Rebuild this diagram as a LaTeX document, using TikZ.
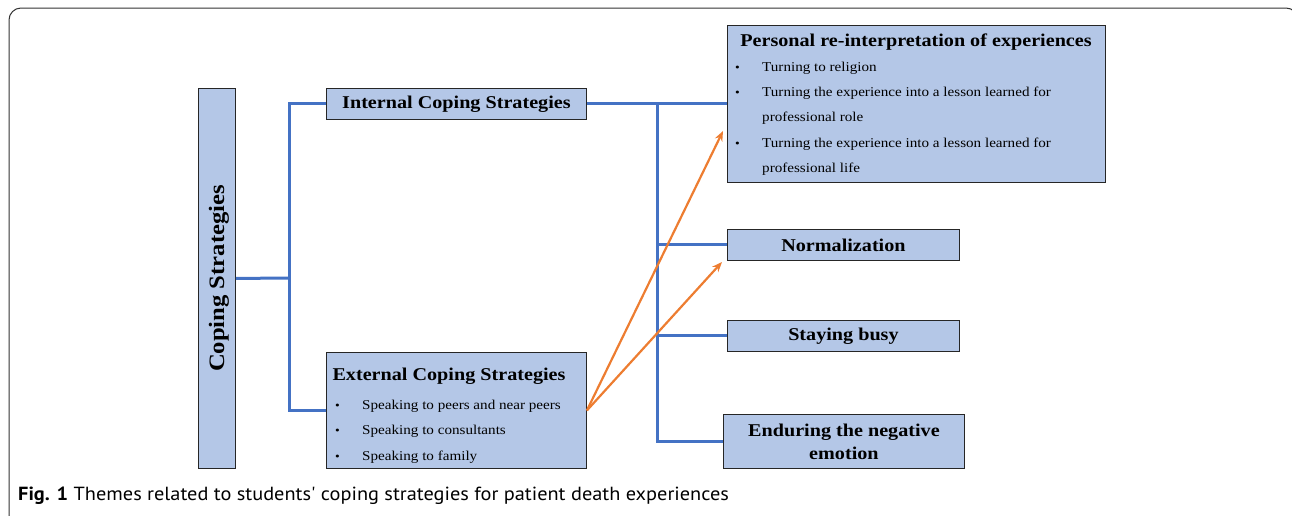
\documentclass[tikz,border=0pt]{standalone}
\usepackage{fontspec}
\setmainfont[FakeStretch=1.12]{Liberation Serif}
\newfontfamily\capfont[FakeStretch=1.07]{PT Sans}
\usetikzlibrary{arrows.meta,calc}
\definecolor{boxblue}{HTML}{B4C7E7}
\definecolor{linkblue}{HTML}{4472C4}
\definecolor{linkorange}{HTML}{ED7D31}
\newcommand{\fs}[1]{\fontsize{#1}{#1}\selectfont}
\begin{document}
\begin{tikzpicture}[x=1pt,y=-1pt,
  box/.style={draw=black!85, fill=boxblue, line width=0.9pt, inner sep=0pt, anchor=north west},
  head/.style={font=\bfseries\fs{18}, inner sep=0pt},
  item/.style={font=\fs{13.5}, inner sep=0pt, anchor=base west},
  dot/.style={font=\fs{12}, inner sep=0pt, anchor=base west},
  tree/.style={draw=linkblue, line width=3pt},
  pull/.style={draw=linkorange, line width=2.2pt, -{Stealth[length=10pt,width=8pt]}}]
\useasboundingbox (0,0) rectangle (1292,515);
\begin{scope}
\clip (0,0) rectangle (1292,515);
\draw[black!80, line width=1pt, rounded corners=12pt] (9,8) rectangle (1298,545);
\end{scope}

% root column
\node[box, minimum width=37, minimum height=380] (cs) at (198,88) {};
\node[head, rotate=90, font=\bfseries\fs{22}] (cst) at ($(cs.center)+(2,0)$) {Coping Strategies};

% first level
\node[box, minimum width=260, minimum height=31] (int) at (326,88) {};
\node[head] (intt) at (int.center) {Internal Coping Strategies};

\node[box, minimum width=260, minimum height=116] (ext) at (326,352) {};
\node[head] (extt) at (449,376) {External Coping Strategies};
\node[dot] (eb1) at (335,409) {\textbullet};
\node[item] (ei1) at (362,409) {Speaking to peers and near peers};
\node[dot] (eb2) at (335,434) {\textbullet};
\node[item] (ei2) at (362,434) {Speaking to consultants};
\node[dot] (eb3) at (335,460) {\textbullet};
\node[item] (ei3) at (362,460) {Speaking to family};

% themes
\node[box, minimum width=378, minimum height=157] (per) at (727,25) {};
\node[head] (pert) at (916,42) {Personal re-interpretation of experiences};
\node[dot] (pb1) at (735,71) {\textbullet};
\node[item] (pi1) at (762,71) {Turning to religion};
\node[dot] (pb2) at (735,96) {\textbullet};
\node[item] (pi2) at (762,96) {Turning the experience into a lesson learned for};
\node[item] (pi2b) at (762,121) {professional role};
\node[dot] (pb3) at (735,147) {\textbullet};
\node[item] (pi3) at (762,147) {Turning the experience into a lesson learned for};
\node[item] (pi3b) at (762,172) {professional life};

\node[box, minimum width=232, minimum height=31] (norm) at (727,229) {};
\node[head] (normt) at (norm.center) {Normalization};

\node[box, minimum width=232, minimum height=31] (busy) at (727,320) {};
\node[head] (busyt) at (busy.center) {Staying busy};

\node[box, minimum width=241, minimum height=54] (endu) at (723,414) {};
\node[head] (endut1) at ($(endu.center)+(0,-9)$) {Enduring the negative};
\node[head] (endut2) at ($(endu.center)+(0,12)$) {emotion};

% blue tree
\coordinate (j1) at (289,278);
\coordinate (j2) at (657,104);
\draw[tree] (cs.east) -- (j1);
\draw[tree] (int.west) -| (j1) |- (ext.west);
\draw[tree] (int.east) -- (int.east -| per.west);
\draw[tree] (j2) |- (endu.west);
\draw[tree] (j2 |- norm.west) -- (norm.west);
\draw[tree] (j2 |- busy.west) -- (busy.west);

% orange links
\coordinate (t1) at (723,131);
\coordinate (t2) at (722,262);
\draw[pull] (ext.east) -- (t1);
\draw[pull] (ext.east) -- (t2);

% caption
\node[anchor=base west, inner sep=0pt, font=\capfont\fs{19}] (cap) at (18,500)
  {\textbf{Fig. 1} Themes related to students' coping strategies for patient death experiences};
\end{tikzpicture}
\end{document}
